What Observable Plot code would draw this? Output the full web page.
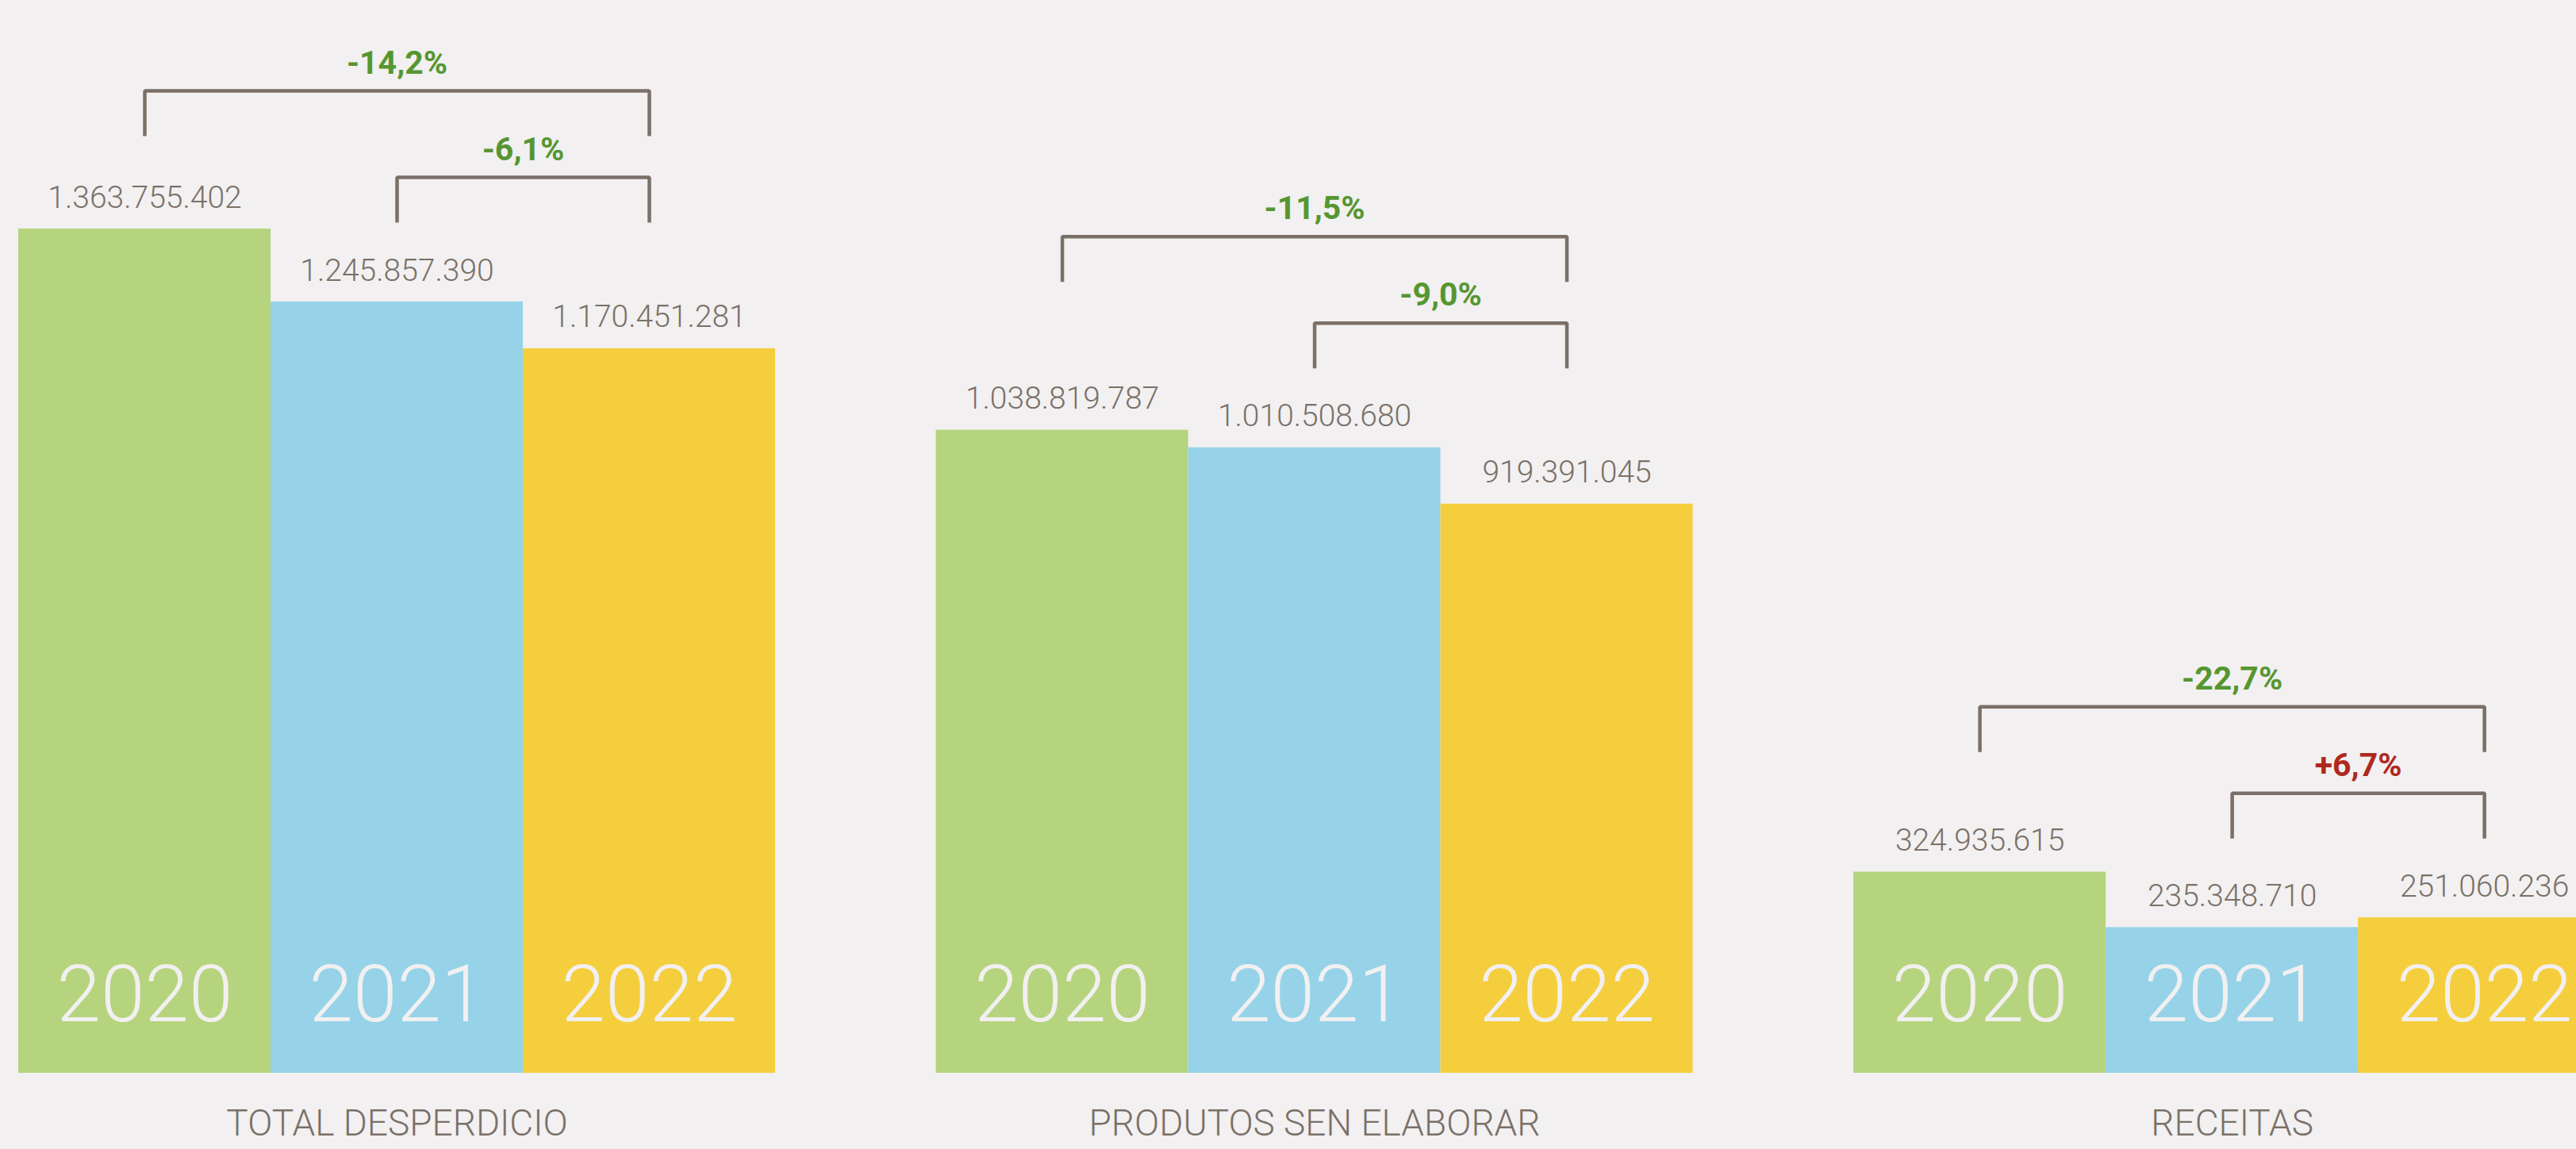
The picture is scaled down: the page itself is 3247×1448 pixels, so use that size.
<!DOCTYPE html>
<html><head><meta charset="utf-8">
<script src="https://cdn.jsdelivr.net/npm/d3@7"></script>
<script src="https://cdn.jsdelivr.net/npm/@observablehq/plot@0.6"></script>
<style>
html,body{margin:0;padding:0;background:#f2f0f1;overflow:hidden;}
#chart svg{display:block}
</style></head><body><div id="chart"></div>
<script>
// ---- data ----
const categories = ["TOTAL DESPERDICIO", "PRODUTOS SEN ELABORAR", "RECEITAS"];
const years = ["2020", "2021", "2022"];
const values2020 = [1363755402, 1038819787, 324935615];
const values2021 = [1245857390, 1010508680, 235348710];
const values2022 = [1170451281, 919391045, 251060236];
const change2020to2022 = ["-14,2%", "-11,5%", "-22,7%"];
const change2021to2022 = ["-6,1%", "-9,0%", "+6,7%"];

// ---- layout ----
const W = 3247, H = 1448;
const marginBottom = 96;
const plotH = H - marginBottom;
const yMax = 1.733e9;
const dataPerPx = yMax / plotH;
const barW = 318;
const stride = 3.637;
const x0 = -23 / barW;
const xDomain = [x0, x0 + W / barW];

const colors = ["#b6d47e", "#96d3e8", "#f5ce3e"];
const textColor = "#7a7068";
const series = [values2020, values2021, values2022];
const fmt = v => d3.format(",")(v).replace(/,/g, ".");

const bars = [];
categories.forEach((c, p) => years.forEach((yr, i) => bars.push({
  category: c, year: yr, value: series[i][p],
  x1: p * stride + i, x2: p * stride + i + 1, xc: p * stride + i + 0.5
})));

const bracketPts = [];
const changeLabels = [];
const catLabels = [];
categories.forEach((c, p) => {
  const T = Math.max(values2021[p], values2022[p]);
  const off = px => T + px * dataPerPx;
  const xa = p * stride + 0.5, xb = p * stride + 1.5, xr = p * stride + 2.5;
  [[xb, 100], [xb, 157], [xr, 157], [xr, 100]].forEach(([x, o]) => bracketPts.push({id: c + "-s", x, y: off(o)}));
  [[xa, 209], [xa, 266], [xr, 266], [xr, 209]].forEach(([x, o]) => bracketPts.push({id: c + "-b", x, y: off(o)}));
  changeLabels.push({x: (xb + xr) / 2, y: off(192), text: change2021to2022[p], up: values2022[p] > values2021[p]});
  changeLabels.push({x: (xa + xr) / 2, y: off(301), text: change2020to2022[p], up: values2022[p] > values2020[p]});
  catLabels.push({x: p * stride + 1.5, text: c});
});

const chart = Plot.plot({
  width: W, height: H,
  marginTop: 0, marginLeft: 0, marginRight: 0, marginBottom,
  x: {domain: xDomain, axis: null},
  y: {domain: [0, yMax], axis: null},
  color: {domain: years, range: colors},
  style: {background: "#f2f0f1", fontFamily: "Roboto, 'Open Sans', sans-serif"},
  marks: [
    Plot.rectY(bars, {x1: "x1", x2: "x2", y: "value", fill: "year", clip: true}),
    Plot.text(bars, {x: "xc", y: 0, text: "year", dy: -98, fontSize: 100, fontWeight: 300, fill: "#f2f0f1"}),
    Plot.text(bars, {x: "xc", y: "value", text: d => fmt(d.value), dy: -39.5, fontSize: 39, fontWeight: 300, fill: textColor}),
    Plot.line(bracketPts, {x: "x", y: "y", z: "id", stroke: textColor, strokeWidth: 4.5, strokeLinejoin: "miter", strokeLinecap: "butt"}),
    Plot.text(changeLabels, {x: "x", y: "y", text: "text", fontSize: 41, fontWeight: 700, fill: d => d.up ? "#b0281e" : "#569630"}),
    Plot.text(catLabels, {x: "x", y: 0, text: "text", dy: 64, fontSize: 46, fontWeight: 300, fill: textColor})
  ]
});
document.getElementById("chart").appendChild(chart);
</script></body></html>
